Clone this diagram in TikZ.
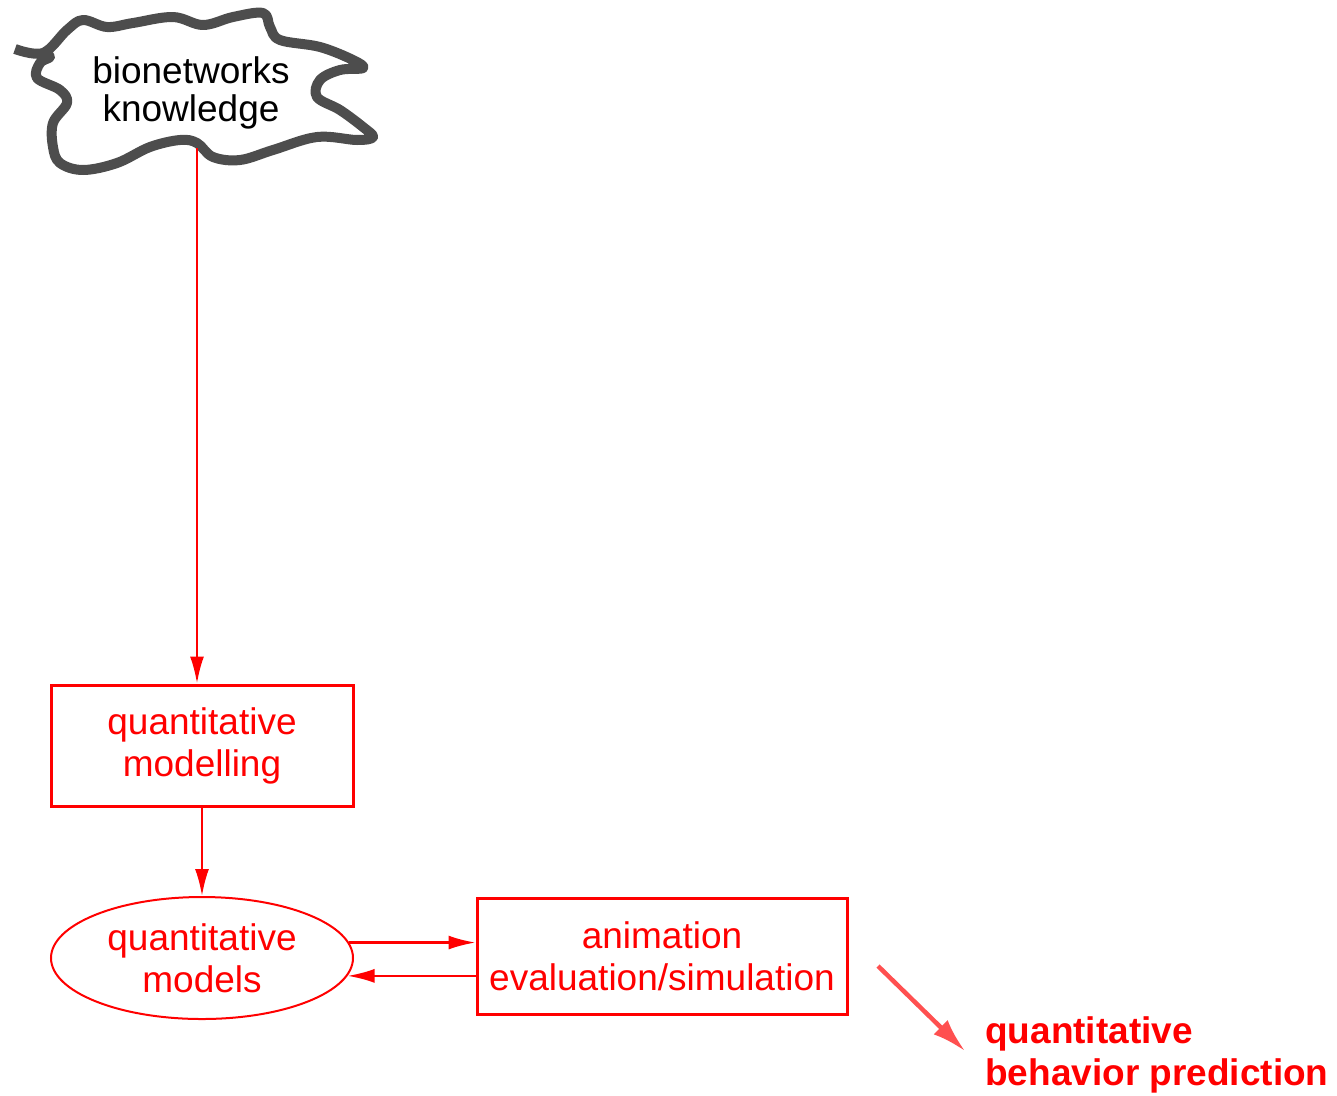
\documentclass[tikz,border=0pt]{standalone}
\usepackage{fontspec}
\setmainfont{Liberation Sans}
\usetikzlibrary{arrows.meta,shapes.geometric}
\definecolor{pred}{HTML}{FF0000}
\definecolor{lred}{HTML}{FF5050}
\definecolor{cloudgray}{HTML}{4D4D4D}
\begin{document}
\begin{tikzpicture}[x=1pt,y=-1pt,
 lbl/.style={font=\fontsize{37}{42}\selectfont, align=center, text=pred, inner sep=0pt},
 boxnode/.style={lbl, draw=pred, line width=3pt},
 link/.style={draw=pred, line width=2.3pt, -{Latex[length=27pt,width=14pt]}},
 cloudline/.style={draw=cloudgray, line width=10pt, line join=round},
]
\useasboundingbox (0,0) rectangle (1337,1095);
% cloud
\draw[cloudline] plot[smooth, tension=0.6] coordinates {(15,49) (43,53) (67,30) (83,20) (107,27) (133,23) (173,17) (203,25) (233,17) (263,13) (270,27) (280,40) (320,47) (353,60) (363,68) (340,70) (320,80) (317,97) (340,110) (363,127) (373,137) (357,140) (317,137) (273,150) (240,160) (213,157) (197,143) (180,140) (150,147) (117,163) (83,170) (60,163) (53,147) (53,123) (67,103) (60,90) (37,78) (40,63) (50,57) (43,53)};
\node[lbl, text=black, font=\fontsize{37}{38}\selectfont] (know) at (191,93) {bionetworks\\knowledge};
\coordinate (cb) at (197,148);
% nodes
\node[boxnode, minimum width=302pt, minimum height=121pt] (qm) at (202,745.5) {quantitative\\modelling};
\node[lbl, draw=pred, line width=2pt, ellipse, minimum width=302pt, minimum height=122pt] (qmod) at (202,958) {quantitative\\models};
\node[boxnode, minimum width=370pt, minimum height=116pt] (anim) at (662,956) {animation\\evaluation/simulation};
\node[lbl, font=\bfseries\fontsize{37}{42}\selectfont, align=left, anchor=north west] (pred) at (985,1016) {quantitative\\behavior prediction};
% connectors
\draw[link] (cb) -- (cb |- qm.north);
\draw[link] (qm.south) -- (qmod.north);
\draw[link] (qmod.6) -- (qmod.6 -| anim.west);
\draw[link] (anim.west |- qmod.-7.5) -- (qmod.-7.5);
\coordinate (ds) at (878,966);
\coordinate (de) at (965,1051);
\draw[lred, line width=4.5pt, -{Latex[length=34pt,width=20pt]}] (ds) -- (de);
\end{tikzpicture}
\end{document}
